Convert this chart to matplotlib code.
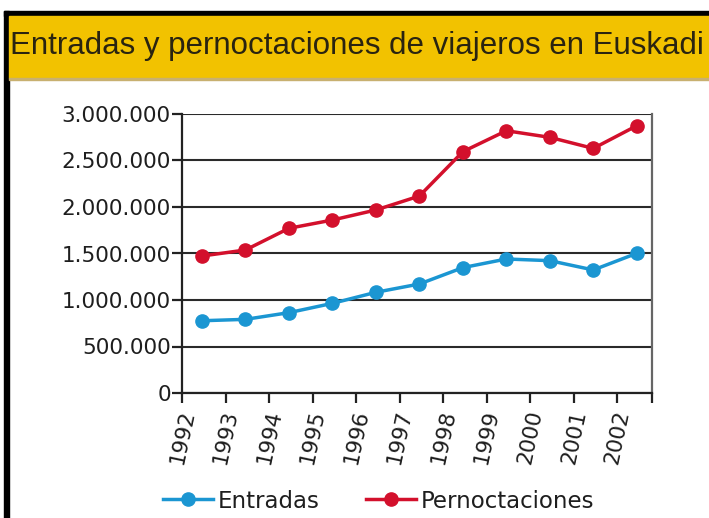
import matplotlib
matplotlib.use("Agg")
import matplotlib.pyplot as plt
from matplotlib.patches import Rectangle
import numpy as np

years = ["1992", "1993", "1994", "1995", "1996", "1997", "1998", "1999", "2000", "2001", "2002"]
entradas = [777000, 792000, 864000, 964000, 1083000, 1172000, 1348000, 1441000, 1423000, 1323000, 1502000]
pernoctaciones = [1473000, 1538000, 1771000, 1860000, 1968000, 2118000, 2595000, 2820000, 2749000, 2630000, 2874000]
yticks = [0, 500000, 1000000, 1500000, 2000000, 2500000, 3000000]
ytick_labels = ["0", "500.000", "1.000.000", "1.500.000", "2.000.000", "2.500.000", "3.000.000"]
title = "Entradas y pernoctaciones de viajeros en Euskadi"

W, H = 709, 518
fig = plt.figure(figsize=(W / 100, H / 100), dpi=100)
fig.patch.set_facecolor("white")

def px(x0, y0, x1, y1):
    return (x0 / W, 1 - y1 / H, (x1 - x0) / W, (y1 - y0) / H)

# frame decorations
x, y, w, h = px(4, 11, W, 16)
fig.patches.append(Rectangle((x, y), w, h, transform=fig.transFigure, color="black", zorder=0))
x, y, w, h = px(4, 11, 9, H)
fig.patches.append(Rectangle((x, y), w, h, transform=fig.transFigure, color="black", zorder=0))
x, y, w, h = px(9, 16, W, 78)
fig.patches.append(Rectangle((x, y), w, h, transform=fig.transFigure, color="#f2c200", zorder=0))
x, y, w, h = px(9, 78, W, 80)
fig.patches.append(Rectangle((x, y), w, h, transform=fig.transFigure, color="#c8b070", zorder=0))

fig.text(10 / W, 1 - 54 / H, title, fontsize=22.5, family="Liberation Sans",
         color="#2a2410", ha="left", va="baseline")

ax = fig.add_axes([182 / W, 1 - 393 / H, (652 - 182) / W, (393 - 114) / H])
xs = np.arange(len(years))
blue = "#1b96d2"
red = "#d3102c"
l1, = ax.plot(xs, entradas, color=blue, lw=2.5, marker="o", ms=9.5, label="Entradas", zorder=3)
l2, = ax.plot(xs, pernoctaciones, color=red, lw=2.5, marker="o", ms=9.5, label="Pernoctaciones", zorder=3)

ax.set_xlim(-0.46, 10.35)
ax.set_ylim(0, 3000000)
ax.set_yticks(yticks)
ax.set_yticklabels(ytick_labels)
ticks_x = list(xs - 0.45) + [10.35]
ax.set_xticks(ticks_x)
ax.set_xticklabels(years + [""], rotation=78, ha="center", va="top")
ax.yaxis.grid(True, color="#2a2a2a", lw=1.5)
ax.set_axisbelow(True)
ax.spines["top"].set_visible(False)
ax.spines["left"].set_color("#222222")
ax.spines["left"].set_linewidth(1.6)
ax.spines["bottom"].set_color("#222222")
ax.spines["bottom"].set_linewidth(1.6)
ax.spines["right"].set_color("#666666")
ax.spines["right"].set_linewidth(1.6)
ax.tick_params(axis="both", direction="out", length=7, width=1.6, color="#222222",
               labelsize=15.5, labelcolor="#1e1e1e")
ax.tick_params(axis="y", pad=1)
ax.tick_params(axis="x", pad=4)

fig.legend(handles=[l1, l2], loc="center left", bbox_to_anchor=(163 / W, 1 - 501 / H),
           ncol=2, frameon=False, borderpad=0, borderaxespad=0, handlelength=2.2,
           handletextpad=0.2, columnspacing=2.0, fontsize=16.5, labelcolor="#1e1e1e")

fig.savefig("out.png", dpi=100)
